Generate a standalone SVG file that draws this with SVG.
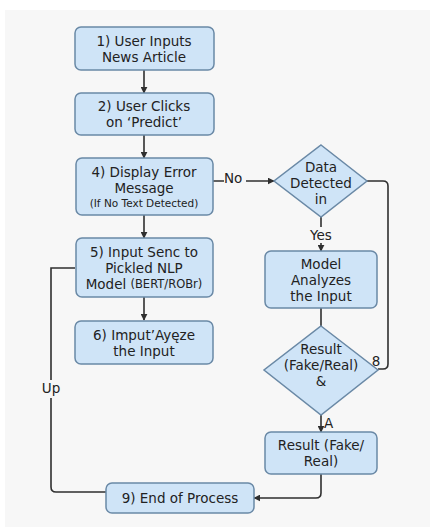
<svg xmlns="http://www.w3.org/2000/svg" width="430" height="527" viewBox="0 0 430 527">
<defs>
<marker id="ah" viewBox="0 0 10 10" refX="9" refY="5" markerWidth="7" markerHeight="7" orient="auto" markerUnits="userSpaceOnUse">
<path d="M0,0 L10,5 L0,10 z" fill="#2f2f2f"/>
</marker>
<style>
.box{fill:#cfe4f7;stroke:#6a89a6;stroke-width:1.5}
.t{font-family:"DejaVu Sans","Noto Sans",sans-serif;font-size:13.5px;fill:#222;text-anchor:middle;dominant-baseline:central}
.s{font-size:10.5px}
.m{font-size:11.5px}
.c{fill:none;stroke:#2f2f2f;stroke-width:1.6}
.l{font-family:"DejaVu Sans","Noto Sans",sans-serif;font-size:13.5px;fill:#222;dominant-baseline:central}
</style>
</defs>
<rect width="430" height="527" fill="#ffffff"/>
<rect x="5" y="10" width="425" height="517" fill="#f7f7f7"/>
<g id="connectors">
<path class="c" d="M144,70 V93" marker-end="url(#ah)"/>
<path class="c" d="M144,135 V158" marker-end="url(#ah)"/>
<path class="c" d="M213,181 H274" marker-end="url(#ah)"/>
<path class="c" d="M144,215 V238" marker-end="url(#ah)"/>
<path class="c" d="M144,297 V320" marker-end="url(#ah)"/>
<path class="c" d="M321,217 V251" marker-end="url(#ah)"/>
<path class="c" d="M321,308 V326"/>
<path class="c" d="M321,415 V432" marker-end="url(#ah)"/>
<path class="c" d="M367,181 H383 Q388,181 388,186 V364 Q388,369 383,369 H378"/>
<path class="c" d="M321,474 V493 Q321,498 316,498 H254" marker-end="url(#ah)"/>
<path class="c" d="M75,268 H51 V487 Q51,492 56,492 H106"/>
<rect x="224" y="172" width="22" height="16" fill="#f7f7f7"/>
<text class="l" x="224" y="178">No</text>
<rect x="305" y="227" width="32" height="16" fill="#f7f7f7"/>
<text class="t" x="321" y="235">Yes</text>
<text class="t" x="376" y="361">8</text>
<text class="l" x="324" y="423">A</text>
<rect x="37" y="380" width="28" height="18" fill="#f7f7f7"/>
<text class="t" x="51" y="388">Up</text>
</g>
<g id="n1">
<rect class="box" x="75" y="27" width="139" height="43" rx="6"/>
<text class="t" x="144" y="41">1) User Inputs</text>
<text class="t" x="144" y="57">News Article</text>
</g>
<g id="n2">
<rect class="box" x="75" y="93" width="139" height="42" rx="6"/>
<text class="t" x="144" y="106">2) User Clicks</text>
<text class="t" x="144" y="122">on ‘Predict’</text>
</g>
<g id="n4">
<rect class="box" x="76" y="158" width="137" height="57" rx="6"/>
<text class="t" x="144" y="172">4) Display Error</text>
<text class="t" x="144" y="188">Message</text>
<text class="t s" x="144" y="203">(If No Text Detected)</text>
</g>
<g id="n5">
<rect class="box" x="76" y="238" width="137" height="59" rx="6"/>
<text class="t" x="144" y="252">5) Input Senc to</text>
<text class="t" x="144" y="268">Pickled NLP</text>
<text class="t" x="144" y="284">Model <tspan class="m">(BERT/ROBr)</tspan></text>
</g>
<g id="n6">
<rect class="box" x="75" y="321" width="138" height="43" rx="6"/>
<text class="t" x="144" y="335">6) Imput’Ayęze</text>
<text class="t" x="144" y="351">the Input</text>
</g>
<g id="n9">
<rect class="box" x="106" y="483" width="148" height="30" rx="6"/>
<text class="t" x="180" y="498">9) End of Process</text>
</g>
<g id="d1">
<polygon class="box" points="321,145 367,181 321,217 274,181"/>
<text class="t" x="321" y="167">Data</text>
<text class="t" x="321" y="183">Detected</text>
<text class="t" x="321" y="199">in</text>
</g>
<g id="model">
<rect class="box" x="265" y="251" width="112" height="57" rx="6"/>
<text class="t" x="321" y="264">Model</text>
<text class="t" x="321" y="280">Analyzes</text>
<text class="t" x="321" y="296">the Input</text>
</g>
<g id="d2">
<polygon class="box" points="321,326 378,370 321,415 264,370"/>
<text class="t" x="321" y="349">Result</text>
<text class="t" x="321" y="365">(Fake/Real)</text>
<text class="t" x="321" y="381">&amp;</text>
</g>
<g id="result">
<rect class="box" x="265" y="432" width="112" height="42" rx="6"/>
<text class="t" x="321" y="445">Result (Fake/</text>
<text class="t" x="321" y="461">Real)</text>
</g>
</svg>
